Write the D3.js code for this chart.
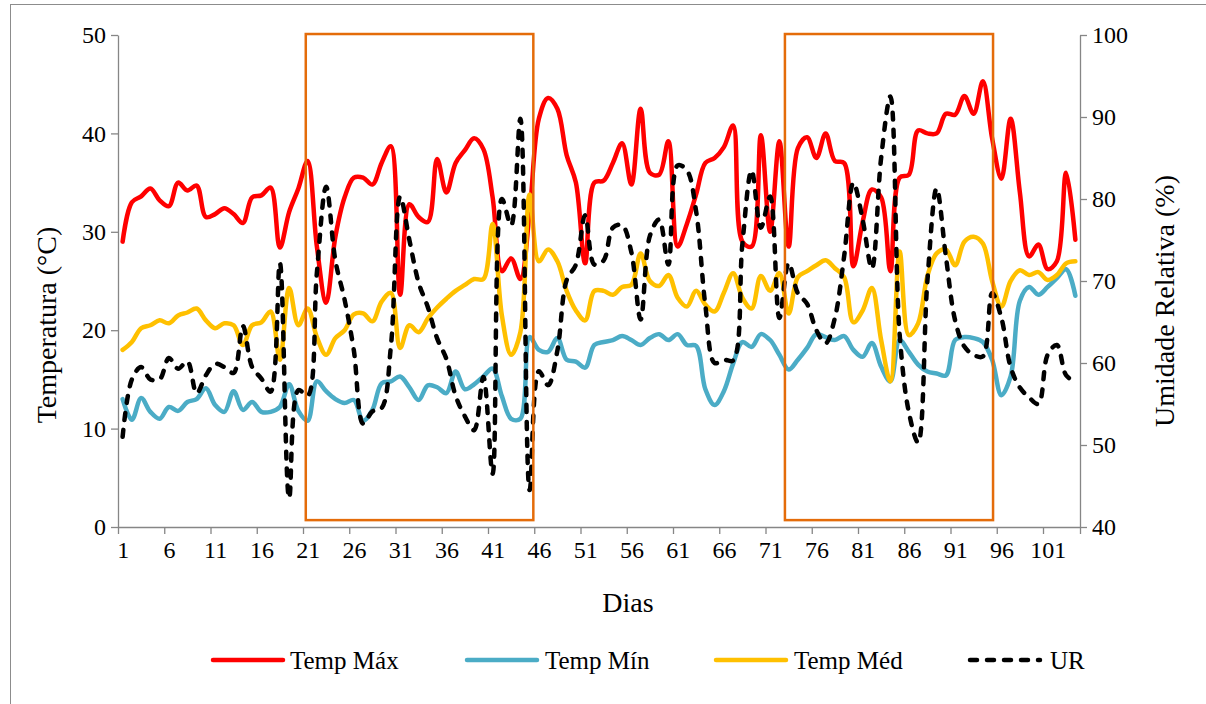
<!DOCTYPE html>
<html><head><meta charset="utf-8">
<script src="https://cdn.jsdelivr.net/npm/d3@7"></script>
<style>
body{margin:0;background:#fff}
svg{display:block}
svg text{font-family:"Liberation Serif","Times New Roman",Tinos,"DejaVu Serif",serif !important;fill:#000}
</style>
</head><body>
<svg id="chart" width="1206" height="704"></svg>
<script>
// ---- data ----
const days = d3.range(1, 105);
const tempMax = [29.0,33.0,33.6,34.4,33.2,32.6,35.0,34.2,34.7,31.5,31.8,32.4,31.8,30.9,33.5,33.7,34.5,28.4,32.0,34.4,
37.2,28.5,22.8,29.5,33.5,35.5,35.5,34.8,37.0,38.7,23.6,32.8,31.5,31.0,37.4,34.0,37.0,38.3,39.5,38.4,
33.5,26.0,27.3,25.2,32.0,41.5,43.6,42.5,37.8,35.0,26.8,35.0,35.2,37.0,39.0,34.8,42.5,36.0,35.8,39.2,
28.5,30.8,33.8,37.0,37.5,38.6,40.8,29.0,28.5,39.8,30.0,39.2,28.5,38.5,39.6,37.5,40.0,37.2,37.0,26.5,
31.0,34.3,33.5,26.0,35.5,35.8,40.3,40.0,40.0,42.0,41.9,43.8,42.0,45.3,39.5,35.4,41.5,34.0,27.5,28.7,
26.2,27.0,36.0,29.2];
const tempMin = [13.0,10.9,13.1,11.7,11.0,12.2,11.8,12.7,13.0,14.1,12.4,11.7,13.8,11.9,12.7,11.7,11.7,12.2,14.5,11.8,
10.8,14.8,13.8,13.0,12.6,12.9,10.8,11.9,14.6,14.8,15.3,14.2,12.9,14.4,14.2,13.6,15.8,14.0,14.5,15.3,
16.1,13.3,11.0,11.0,19.3,18.0,17.8,19.2,17.0,16.8,16.2,18.5,18.8,19.0,19.4,19.0,18.5,19.2,19.6,19.0,
19.6,18.5,18.4,14.0,12.4,13.8,16.6,18.8,18.3,19.6,19.0,17.5,16.0,17.0,18.2,19.6,19.3,19.0,19.4,18.0,
17.3,18.7,16.3,14.8,19.0,17.8,16.5,15.8,15.6,15.4,19.0,19.3,19.2,18.8,17.0,13.4,15.3,23.0,24.4,23.6,
24.4,25.3,26.2,23.5];
const tempMed = [18.0,18.8,20.2,20.5,21.0,20.7,21.5,21.8,22.2,21.0,20.2,20.7,20.5,18.5,20.5,20.8,21.9,17.0,24.3,20.5,
22.2,19.3,17.5,19.2,20.0,21.6,21.7,20.9,22.9,23.8,18.2,20.5,19.8,21.2,22.3,23.2,24.0,24.6,25.2,25.2,
30.8,21.5,17.5,19.8,33.8,27.0,28.2,27.0,24.0,22.0,21.0,24.0,24.0,23.6,24.4,24.6,27.8,25.0,24.5,25.6,
23.3,22.4,24.0,22.6,21.9,23.8,25.8,23.3,22.2,25.5,24.0,25.8,21.7,25.4,26.0,26.6,27.1,26.3,25.4,20.8,
22.0,24.3,19.0,14.8,28.0,19.5,20.7,25.5,27.8,28.2,26.6,29.0,29.5,28.8,25.0,22.4,25.0,26.1,25.6,25.9,
25.1,25.6,26.8,27.0];
const ur = [51.0,58.0,59.5,58.0,58.0,60.6,59.3,60.2,56.3,58.5,59.9,59.5,58.8,64.5,59.5,58.1,56.5,72.2,43.5,56.7,
56.0,71.0,81.5,72.5,67.7,61.5,52.6,54.1,54.5,62.0,80.3,75.0,69.8,66.8,63.0,60.5,56.0,53.5,51.8,58.3,
46.5,80.0,76.8,89.8,44.5,59.0,57.3,61.5,70.1,72.0,78.0,72.0,72.5,76.5,76.8,73.5,65.3,75.5,77.5,72.0,
84.1,83.5,78.5,67.0,60.0,60.4,60.3,74.5,83.5,76.5,80.3,65.5,72.2,68.5,67.2,64.0,62.4,65.5,73.0,82.0,
77.5,71.5,85.0,92.5,63.5,54.0,50.3,70.0,81.3,73.0,65.2,62.0,61.0,60.8,68.5,65.5,59.5,57.0,55.8,55.0,
61.0,62.2,58.5,57.7];
const dayLabels = d3.range(1, 105, 5);          // 1, 6, 11, ... 101
const leftTicks = [0, 10, 20, 30, 40, 50];
const rightTicks = [40, 50, 60, 70, 80, 90, 100];
const boxes = [[20.8, 45.4], [72.6, 95.1]];      // highlighted periods (days)
const boxTemp = [0.7, 50.1];
const seriesNames = ["Temp Máx", "Temp Mín", "Temp Méd", "UR"];

// ---- drawing ----
const svg = d3.select("#chart");
const W = 1206, H = 704;
const L = 118, R = 1080, T = 35, B = 527;
const FONT = '"Liberation Serif","Times New Roman",Tinos,"DejaVu Serif",serif';

svg.append("rect").attr("x", 10.5).attr("y", 4.5).attr("width", W).attr("height", H)
  .attr("fill", "#fff").attr("stroke", "#8c8c8c").attr("stroke-width", 1);

const x = d3.scaleLinear().domain([0.5, 104.5]).range([L, R]);
const yL = d3.scaleLinear().domain([0, 50]).range([B, T]);
const yR = d3.scaleLinear().domain([40, 100]).range([B, T]);

const axisColor = "#868686";
const tickFont = 24;

const gL = svg.append("g").attr("transform", `translate(${L},0)`)
  .call(d3.axisLeft(yL).tickValues(leftTicks).tickSize(7).tickPadding(5).tickSizeOuter(0));
const gR = svg.append("g").attr("transform", `translate(${R},0)`)
  .call(d3.axisRight(yR).tickValues(rightTicks).tickSize(7).tickPadding(5).tickSizeOuter(0));
const bounds = d3.range(0.5, 105, 5).concat([104.5]);
const gB = svg.append("g").attr("transform", `translate(0,${B})`)
  .call(d3.axisBottom(x).tickValues(bounds).tickFormat("").tickSize(7).tickSizeOuter(0));
const gBL = svg.append("g").attr("transform", `translate(0,${B})`)
  .call(d3.axisBottom(x).tickValues(dayLabels).tickFormat(d3.format("d")).tickSize(0).tickPadding(14));
gBL.select(".domain").remove();

[gL, gR, gB, gBL].forEach(g => g.attr("font-family", FONT).attr("font-size", tickFont));
[gL, gR, gB].forEach(g => {
  g.select(".domain").attr("stroke", axisColor).attr("stroke-width", 1.3);
  g.selectAll(".tick line").attr("stroke", axisColor).attr("stroke-width", 1.3);
});
[gL, gR, gBL].forEach(g => {
  g.selectAll("text").attr("font-family", FONT).attr("font-size", tickFont).attr("fill", "#000");
});

const line = (ys, yScale) => d3.line()
  .x((d, i) => x(days[i])).y(d => yScale(d)).curve(d3.curveCatmullRom.alpha(0.5))(ys);

const series = [
  {name: seriesNames[0], data: tempMax, y: yL, color: "#ff0000", dash: null},
  {name: seriesNames[1], data: tempMin, y: yL, color: "#4bacc6", dash: null},
  {name: seriesNames[2], data: tempMed, y: yL, color: "#ffc000", dash: null},
  {name: seriesNames[3], data: ur, y: yR, color: "#000000", dash: "7,10"}
];
series.forEach(s => {
  svg.append("path").attr("d", line(s.data, s.y)).attr("fill", "none")
    .attr("stroke", s.color).attr("stroke-width", 4.5)
    .attr("stroke-linejoin", "round")
    .attr("stroke-linecap", "round")
    .attr("stroke-dasharray", s.dash);
});

boxes.forEach(b => {
  svg.append("rect").attr("x", x(b[0])).attr("y", yL(boxTemp[1]))
    .attr("width", x(b[1]) - x(b[0])).attr("height", yL(boxTemp[0]) - yL(boxTemp[1]))
    .attr("fill", "none").attr("stroke", "#e46c0a").attr("stroke-width", 2.5);
});

const txt = (sel) => sel.attr("font-family", FONT).attr("fill", "#000");
txt(svg.append("text")).attr("x", 628).attr("y", 612).attr("text-anchor", "middle")
  .attr("font-size", 28).text("Dias");
txt(svg.append("text")).attr("transform", "translate(56,325) rotate(-90)").attr("text-anchor", "middle")
  .attr("font-size", 28).text("Temperatura (°C)");
txt(svg.append("text")).attr("transform", "translate(1174,301) rotate(-90)").attr("text-anchor", "middle")
  .attr("font-size", 28).text("Umidade Relativa (%)");

const legX = [213, 467, 716, 970];
const legText = [290, 545, 794, 1050];
series.forEach((s, i) => {
  svg.append("line").attr("x1", legX[i]).attr("x2", legX[i] + 70).attr("y1", 660).attr("y2", 660)
    .attr("stroke", s.color).attr("stroke-width", 4.5).attr("stroke-linecap", "round")
    .attr("stroke-dasharray", s.dash);
  txt(svg.append("text")).attr("x", legText[i]).attr("y", 669).attr("font-size", 25).text(s.name);
});
</script>
</body></html>
